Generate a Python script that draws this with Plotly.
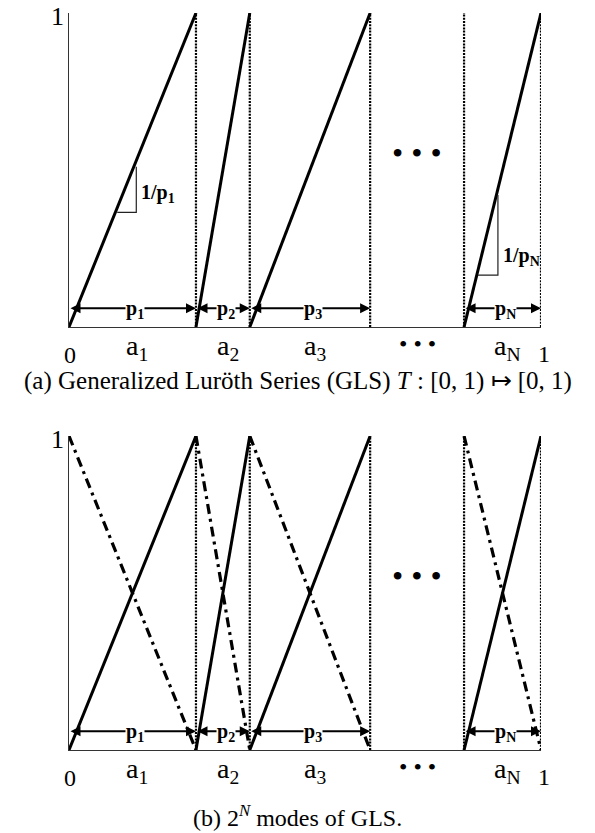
import plotly.graph_objects as go

# ---- data ----
breaks = [0.0, 0.269, 0.383, 0.638, 0.837, 1.0]          # interval end points on [0,1)
has_branch = [True, True, True, False, True]                # 4th interval is the "..." gap
seg_labels = ["a<sub>1</sub>", "a<sub>2</sub>", "a<sub>3</sub>", "• • •", "a<sub>N</sub>"]
p_labels = ["p<sub>1</sub>", "p<sub>2</sub>", "p<sub>3</sub>", None, "p<sub>N</sub>"]
slope_labels = {0: "1/p<sub>1</sub>", 4: "1/p<sub>N</sub>"}
slope_frac = {0: (0.38, 0.53), 4: (0.18, 0.44)}            # where the slope triangles sit in a branch
captions = ["(a) Generalized Luröth Series (GLS) <i>T</i> : [0, 1) ↦ [0, 1)",
            "(b) 2<sup><i>N</i></sup> modes of GLS."]

W, H = 595, 833
FONT = "Liberation Serif"
x_dom = [69 / W, 541 / W]
panels = [
    dict(xa="x", ya="y", ydom=[1 - 327 / H, 1 - 13 / H], cap_y=381, cap_size=25, dashdot=False),
    dict(xa="x2", ya="y2", ydom=[1 - 750 / H, 1 - 436 / H], cap_y=816, cap_size=24, dashdot=True),
]
ARROW_Y = 0.06

fig = go.Figure()
annotations = []
shapes = []

for k, pnl in enumerate(panels):
    xa, ya = pnl["xa"], pnl["ya"]
    # dotted verticals at every break after 0
    vx, vy = [], []
    for b in breaks[1:]:
        vx += [b, b, None]
        vy += [0, 1, None]
    fig.add_trace(go.Scatter(x=vx, y=vy, mode="lines", xaxis=xa, yaxis=ya,
                             line=dict(color="black", width=2.2, dash="2px,1.2px"),
                             cliponaxis=False, showlegend=False, hoverinfo="skip"))
    # branches
    sx, sy, dx, dy = [], [], [], []
    for i in range(len(breaks) - 1):
        if not has_branch[i]:
            continue
        sx += [breaks[i], breaks[i + 1], None]
        sy += [0, 1, None]
        dx += [breaks[i], breaks[i + 1], None]
        dy += [1, 0, None]
    if pnl["dashdot"]:
        fig.add_trace(go.Scatter(x=dx, y=dy, mode="lines", xaxis=xa, yaxis=ya,
                                 line=dict(color="black", width=3.2, dash="10px,5px,3px,5px"),
                                 cliponaxis=False, showlegend=False, hoverinfo="skip"))
    fig.add_trace(go.Scatter(x=sx, y=sy, mode="lines", xaxis=xa, yaxis=ya,
                             line=dict(color="black", width=3),
                             cliponaxis=False, showlegend=False, hoverinfo="skip"))

    # arrows for p_i
    for i in range(len(breaks) - 1):
        if p_labels[i] is None:
            continue
        annotations.append(dict(x=breaks[i + 1], y=ARROW_Y, ax=breaks[i], ay=ARROW_Y,
                                xref=xa, yref=ya, axref=xa, ayref=ya, text="",
                                showarrow=True, arrowhead=2, startarrowhead=2,
                                arrowside="end+start", arrowwidth=2, arrowsize=1,
                                startarrowsize=1, standoff=0, startstandoff=0,
                                arrowcolor="black"))
    for i in range(len(breaks) - 1):
        mid = (breaks[i] + breaks[i + 1]) / 2
        if p_labels[i] is not None:
            annotations.append(dict(x=mid, y=ARROW_Y, xref=xa, yref=ya, xshift=3, yshift=-1,
                                    xanchor="center", yanchor="middle",
                                    text="<b>" + p_labels[i] + "</b>", showarrow=False,
                                    bgcolor="white", borderpad=0,
                                    font=dict(family=FONT, size=20, color="black")))
        lab = seg_labels[i]
        fsz = 24 if lab.startswith("•") else 28
        annotations.append(dict(x=mid, y=0, xref=xa, yref=ya, xshift=5 if has_branch[i] else 0,
                                yshift=-20 if has_branch[i] else -17,
                                xanchor="center", yanchor="middle",
                                text=lab, showarrow=False,
                                font=dict(family=FONT, size=fsz, color="black")))
        if not has_branch[i]:
            annotations.append(dict(x=mid, y=0.555, xref=xa, yref=ya, text="• • •",
                                    xanchor="center", yanchor="middle", showarrow=False,
                                    font=dict(family=FONT, size=32, color="black")))

    # slope triangles (panel a only)
    if k == 0:
        for i, lab in slope_labels.items():
            w = breaks[i + 1] - breaks[i]
            f0, f1 = slope_frac[i]
            x0 = breaks[i] + f0 * w
            x1 = breaks[i] + f1 * w
            yh = f0 - 0.015
            yv = f1 - 0.02
            shapes.append(dict(type="path", xref=xa, yref=ya,
                               path=f"M {x0} {yh} L {x1} {yh} L {x1} {yv}",
                               line=dict(color="#222", width=1.2)))
            annotations.append(dict(x=x1, y=yh + 0.06, xref=xa, yref=ya, xanchor="left",
                                    yanchor="middle",
                                    xshift=3, text="<b>" + lab + "</b>", showarrow=False,
                                    font=dict(family=FONT, size=20, color="black")))

    # 0 / 1 labels
    annotations.append(dict(x=0, y=1, xref=xa, yref=ya, xshift=-12, yshift=-3,
                            xanchor="center", yanchor="middle",
                            text="1", showarrow=False,
                            font=dict(family=FONT, size=26, color="black")))
    annotations.append(dict(x=0, y=0, xref=xa, yref=ya, xshift=1, yshift=-28,
                            xanchor="center", yanchor="middle",
                            text="0", showarrow=False,
                            font=dict(family=FONT, size=24, color="black")))
    annotations.append(dict(x=1, y=0, xref=xa, yref=ya, xshift=3, yshift=-27,
                            xanchor="center", yanchor="middle",
                            text="1", showarrow=False,
                            font=dict(family=FONT, size=24, color="black")))
    # caption
    annotations.append(dict(x=0.5, y=1 - pnl["cap_y"] / H, xref="paper", yref="paper",
                            xanchor="center", yanchor="middle",
                            text=captions[k], showarrow=False,
                            font=dict(family=FONT, size=pnl["cap_size"], color="black")))

axis_common = dict(range=[0, 1], showgrid=False, zeroline=False, showticklabels=False,
                   ticks="", showline=True, linecolor="#333", linewidth=1.2, fixedrange=True)
fig.update_layout(
    width=W, height=H, margin=dict(l=0, r=0, t=0, b=0),
    paper_bgcolor="white", plot_bgcolor="white", showlegend=False,
    xaxis=dict(domain=x_dom, anchor="y", **axis_common),
    yaxis=dict(domain=panels[0]["ydom"], anchor="x", **axis_common),
    xaxis2=dict(domain=x_dom, anchor="y2", **axis_common),
    yaxis2=dict(domain=panels[1]["ydom"], anchor="x2", **axis_common),
    annotations=annotations, shapes=shapes,
)
fig.write_html("out.html", config={"displayModeBar": False},
               post_script="document.body.style.margin='0';document.body.style.overflow='hidden';")
